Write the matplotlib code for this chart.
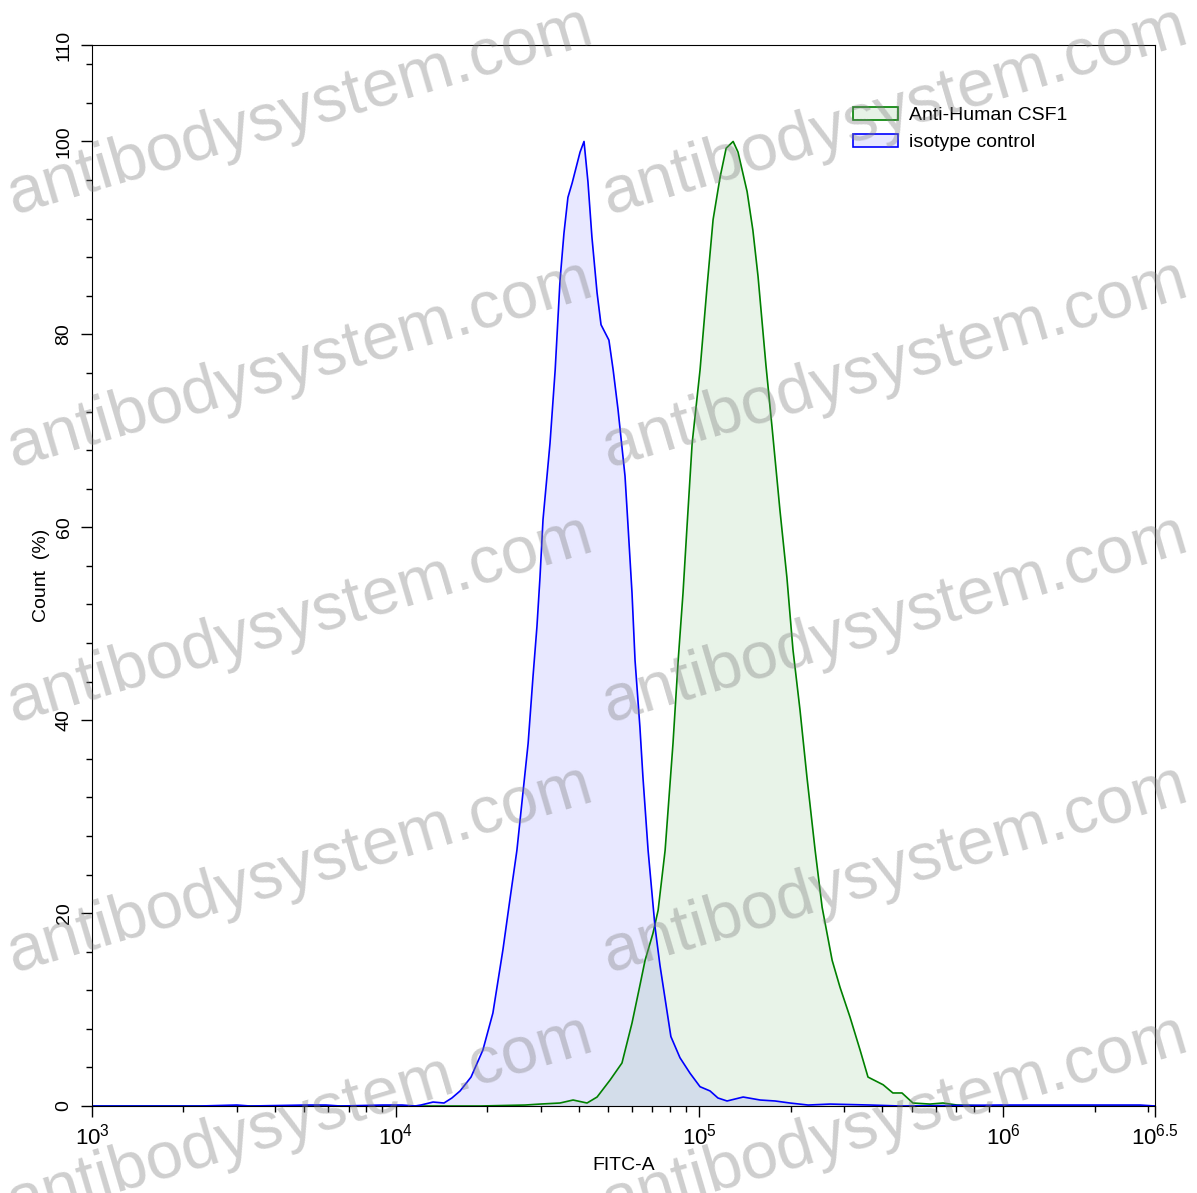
import matplotlib
matplotlib.use("Agg")
import matplotlib.pyplot as plt
from matplotlib.patches import Patch
from matplotlib.ticker import FixedLocator, MultipleLocator

plt.rcParams['font.family'] = ['Liberation Sans', 'DejaVu Sans']
plt.rcParams['mathtext.fontset'] = 'custom'
plt.rcParams['mathtext.rm'] = 'Liberation Sans'
plt.rcParams['mathtext.it'] = 'Liberation Sans'

# Histogram values (x in log10 units, y in % of max)
iso_log = [3.0, 3.356, 3.477, 3.520, 3.705, 3.770, 3.817, 3.958, 4.021, 4.064, 4.083,
           4.123, 4.159, 4.185, 4.212, 4.248, 4.287, 4.320, 4.353, 4.376, 4.399, 4.419,
           4.436, 4.452, 4.465, 4.475, 4.485, 4.508, 4.525, 4.541, 4.554, 4.567, 4.581,
           4.607, 4.620, 4.633, 4.646, 4.663, 4.676, 4.702, 4.716, 4.732, 4.755, 4.765,
           4.778, 4.788, 4.804, 4.814, 4.831, 4.854, 4.870, 4.906, 4.936, 4.969, 5.002,
           5.035, 5.061, 5.091, 5.144, 5.200, 5.249, 5.298, 5.358, 5.430, 5.562, 5.661,
           5.990, 6.187, 6.451, 6.5]
iso_pct = [0.0, 0.0, 0.1, 0.0, 0.1, 0.1, 0.0, 0.1, 0.1, 0.0, 0.1,
           0.41, 0.31, 0.83, 1.56, 3.0, 5.8, 9.64, 16.2, 21.4, 26.5, 32.5,
           37.6, 44.5, 49.7, 54.8, 60.8, 68.7, 76.3, 85.6, 90.5, 94.2, 95.7,
           98.9, 100.0, 95.8, 90.1, 84.3, 81.0, 79.4, 76.3, 72.2, 65.3, 60.1,
           53.2, 46.2, 39.3, 34.1, 26.5, 18.5, 14.6, 7.2, 5.0, 3.4, 2.0,
           1.56, 0.83, 0.52, 0.93, 0.62, 0.52, 0.31, 0.1, 0.2, 0.1, 0.0,
           0.1, 0.1, 0.1, 0.0]

csf1_log = [3.0, 4.278, 4.426, 4.475, 4.541, 4.584, 4.630, 4.663, 4.706, 4.745, 4.778,
            4.804, 4.821, 4.847, 4.864, 4.887, 4.913, 4.930, 4.946, 4.959, 4.976, 5.002,
            5.025, 5.045, 5.068, 5.088, 5.111, 5.127, 5.157, 5.176, 5.193, 5.219, 5.239,
            5.265, 5.288, 5.308, 5.331, 5.354, 5.381, 5.404, 5.437, 5.463, 5.496, 5.529,
            5.555, 5.605, 5.637, 5.667, 5.703, 5.759, 5.802, 5.848, 5.957, 6.5]
csf1_pct = [0.0, 0.0, 0.1, 0.2, 0.31, 0.62, 0.31, 0.93, 2.7, 4.46, 8.6,
            12.5, 15.1, 17.9, 20.3, 26.5, 37.6, 46.2, 53.2, 60.0, 68.7, 76.3,
            84.9, 91.9, 96.3, 99.3, 100.0, 98.9, 94.8, 90.8, 86.0, 76.8, 70.4,
            61.8, 54.8, 47.3, 41.1, 34.1, 26.5, 20.6, 15.1, 12.3, 9.2, 5.8,
            3.0, 2.2, 1.35, 1.35, 0.31, 0.2, 0.31, 0.1, 0.0, 0.0]

series_names = ["Anti-Human CSF1", "isotype control"]
x_ticks = [3, 4, 5, 6, 6.5]
x_tick_labels = [r'$10^{3}$', r'$10^{4}$', r'$10^{5}$', r'$10^{6}$', r'$10^{6.5}$']
y_ticks = [0, 20, 40, 60, 80, 100, 110]

iso_x = [10 ** v for v in iso_log]
csf1_x = [10 ** v for v in csf1_log]

fig = plt.figure(figsize=(11.97, 11.93), dpi=100)
ax = fig.add_axes([92 / 1197, 87 / 1193, 1063 / 1197, 1061 / 1193])

green = '#008000'
blue = '#0000ff'
ax.fill_between(csf1_x, csf1_pct, 0, color=green, alpha=0.09, lw=0)
ax.plot(csf1_x, csf1_pct, color=green, lw=1.2)
ax.fill_between(iso_x, iso_pct, 0, color=blue, alpha=0.09, lw=0)
ax.plot(iso_x, iso_pct, color=blue, lw=1.2)

ax.set_xscale('log')
ax.set_xlim(10 ** 3, 10 ** 6.5)
ax.set_ylim(0, 110)
ax.xaxis.set_major_locator(FixedLocator([10 ** v for v in x_ticks]))
ax.set_xticklabels(x_tick_labels, fontsize=16)
minor_x = [m * 10 ** d for d in range(3, 7) for m in range(2, 10) if m * 10 ** d < 10 ** 6.5]
ax.xaxis.set_minor_locator(FixedLocator(minor_x))
ax.set_yticks(y_ticks)
ax.set_yticklabels([str(v) for v in y_ticks], rotation=90, va='center', fontsize=14)
ax.yaxis.set_minor_locator(MultipleLocator(4))
ax.tick_params(axis='both', which='major', length=8, width=1, direction='out')
ax.tick_params(axis='both', which='minor', length=4, width=1, direction='out')
ax.tick_params(axis='x', pad=5)
ax.tick_params(axis='y', pad=6)

ax.set_xlabel("FITC-A", fontsize=14, labelpad=5)
ax.set_ylabel("Count  (%)", fontsize=14, labelpad=4)

handles = [Patch(facecolor=(0.9, 0.95, 0.9), edgecolor=green, lw=1.2),
           Patch(facecolor=(0.91, 0.91, 1.0), edgecolor=blue, lw=1.2)]
ax.legend(handles, series_names, loc='upper left', bbox_to_anchor=(0.716, 0.942),
          frameon=False, fontsize=14, handlelength=2.3, handleheight=0.65,
          handletextpad=0.6, labelspacing=0.5, borderpad=0, borderaxespad=0)

# watermark, repeated on a grid
for cy in [112, 365, 620, 870, 1120]:
    for cx in [300, 895]:
        fig.text(cx / 1197, 1 - cy / 1193, "antibodysystem.com", fontsize=48,
                 color='#808080', alpha=0.38, rotation=16.5, ha='center', va='center',
                 rotation_mode='anchor', zorder=10)

fig.savefig("out.png", dpi=100)
